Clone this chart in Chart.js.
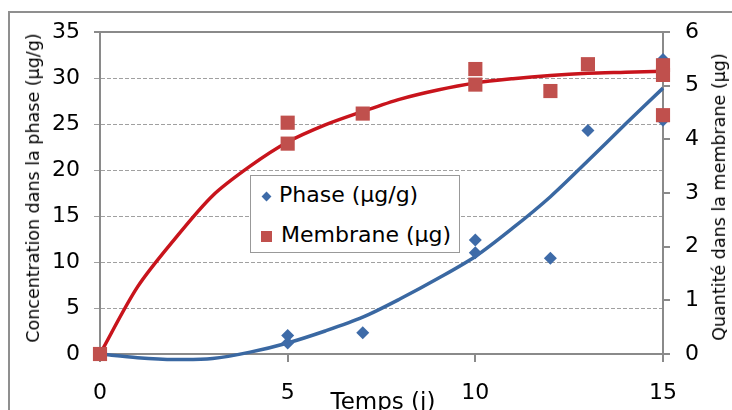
<!DOCTYPE html>
<html>
<head>
<meta charset="utf-8">
<script src="https://cdn.jsdelivr.net/npm/chart.js@4"></script>
<style>
  html, body { margin: 0; padding: 0; background: #fff; }
  body { width: 732px; height: 410px; overflow: hidden; position: relative; font-family: "DejaVu Sans", sans-serif; }
  #frame { position: absolute; left: 8px; top: 11px; width: 900px; height: 600px; border: 2px solid #8f8f8f; }
  #chart { position: absolute; left: 0; top: 0; }
  .title { position: absolute; white-space: nowrap; color: #000; }
  #title-left { left: 33px; top: 188px; font-size: 17.5px; transform: translate(-50%, -50%) rotate(-90deg); }
  #title-right { left: 719px; top: 197px; font-size: 17.5px; transform: translate(-50%, -50%) rotate(-90deg); }
  #title-x { left: 383px; top: 401px; font-size: 23px; transform: translate(-50%, -50%); }
  #legend { position: absolute; left: 250px; top: 175px; width: 208px; height: 76px; background: #fff; border: 1.5px solid #999; }
  .item { position: absolute; left: 10px; font-size: 22px; white-space: nowrap; line-height: 26px; }
  .item span.mk { display: inline-block; vertical-align: middle; margin-right: 9px; }
  .diamond { width: 7px; height: 7px; background: #3e6ba8; transform: rotate(45deg); margin-left: 2px; }
  .square { width: 11px; height: 11px; background: #c0504d; }
</style>
</head>
<body>
<div id="frame"></div>
<canvas id="chart" width="732" height="410"></canvas>
<div class="title" id="title-left">Concentration dans la phase (μg/g)</div>
<div class="title" id="title-right">Quantité dans la membrane (μg)</div>
<div class="title" id="title-x">Temps (j)</div>
<div id="legend">
  <div class="item" style="top:6px"><span class="mk diamond"></span>Phase (μg/g)</div>
  <div class="item" style="top:46px"><span class="mk square"></span>Membrane (μg)</div>
</div>
<script>
// measured points
const phaseDays = [0, 5, 5, 7, 10, 10, 12, 13, 15, 15];
const phaseVals = [0, 2.0, 1.2, 2.3, 12.4, 11.0, 10.4, 24.3, 32.0, 25.4];

const membraneDays = [0, 5, 5, 7, 10, 10, 12, 13, 15, 15, 15];
const membraneVals = [0, 4.31, 3.92, 4.48, 5.31, 5.02, 4.9, 5.4, 5.38, 5.2, 4.45];

// trend curves
const curveDays = [0, 1, 2, 3, 4, 5, 6, 7, 8, 9, 10, 11, 12, 13, 14, 15];
const phaseCurve = [0, -0.4, -0.6, -0.5, 0.2, 1.2, 2.5, 4.0, 6.0, 8.2, 10.6, 13.7, 17.1, 21.0, 25.0, 28.9];
const membraneCurve = [0, 1.25, 2.15, 2.95, 3.5, 3.95, 4.27, 4.52, 4.75, 4.92, 5.05, 5.13, 5.19, 5.23, 5.25, 5.27];

const leftTicks = [0, 5, 10, 15, 20, 25, 30, 35];
const rightTicks = [0, 1, 2, 3, 4, 5, 6];
const xTicks = [0, 5, 10, 15];

const toXY = (xs, ys) => xs.map((x, i) => ({ x: x, y: ys[i] }));

const tickFont = { family: 'DejaVu Sans', size: 22 };
const axisGray = '#8a8a8a';

new Chart(document.getElementById('chart'), {
    type: 'scatter',
    data: {
        datasets: [
            {
                label: 'Membrane (μg)',
                data: toXY(membraneDays, membraneVals),
                yAxisID: 'y1',
                pointStyle: 'rect',
                pointRadius: 10,
                backgroundColor: '#c0504d',
                borderColor: '#c0504d',
                borderWidth: 0,
                clip: false
            },
            {
                label: 'Phase (μg/g)',
                data: toXY(phaseDays, phaseVals),
                yAxisID: 'y',
                pointStyle: 'rectRot',
                pointRadius: 6.5,
                backgroundColor: '#3e6ba8',
                borderColor: '#3e6ba8',
                borderWidth: 0,
                clip: false
            },
            {
                label: 'membrane fit',
                data: toXY(curveDays, membraneCurve),
                yAxisID: 'y1',
                showLine: true,
                pointRadius: 0,
                borderColor: '#c8141c',
                borderWidth: 3.5,
                tension: 0.3,
                clip: false
            },
            {
                label: 'phase fit',
                data: toXY(curveDays, phaseCurve),
                yAxisID: 'y',
                showLine: true,
                pointRadius: 0,
                borderColor: '#3a68a2',
                borderWidth: 3.5,
                tension: 0.3,
                clip: false
            }
        ]
    },
    options: {
        responsive: false,
        animation: false,
        layout: { padding: { top: 32, left: 0, right: 0, bottom: 0 } },
        plugins: { legend: { display: false }, tooltip: { enabled: false } },
        scales: {
            x: {
                type: 'linear',
                min: 0, max: 15,
                afterBuildTicks: s => { s.ticks = xTicks.map(v => ({ value: v })); },
                afterFit: s => { s.height = 56; },
                ticks: { font: tickFont, color: '#000', padding: 18 },
                grid: { drawOnChartArea: false, color: axisGray, tickLength: 8, lineWidth: 2 },
                border: { color: axisGray, width: 2 }
            },
            y: {
                position: 'left',
                min: 0, max: 35,
                afterBuildTicks: s => { s.ticks = leftTicks.map(v => ({ value: v })); },
                afterFit: s => { s.width = 100; },
                ticks: { font: tickFont, color: '#000', padding: 14 },
                grid: {
                    color: ctx => ctx.tick && ctx.tick.value === 35 ? axisGray : '#a0a0a0',
                    lineWidth: ctx => ctx.tick && ctx.tick.value === 35 ? 2 : 1,
                    tickLength: 6
                },
                border: {
                    color: axisGray, width: 2,
                    dash: ctx => (ctx.tick && (ctx.tick.value === 35 || ctx.tick.value === 0)) ? [] : [4, 2]
                }
            },
            y1: {
                position: 'right',
                min: 0, max: 6,
                afterBuildTicks: s => { s.ticks = rightTicks.map(v => ({ value: v })); },
                afterFit: s => { s.width = 69; },
                ticks: { font: tickFont, color: '#000', padding: 15 },
                grid: { drawOnChartArea: false, color: axisGray, tickLength: 7, lineWidth: 2 },
                border: { color: axisGray, width: 2 }
            }
        }
    }
});
</script>
</body>
</html>
